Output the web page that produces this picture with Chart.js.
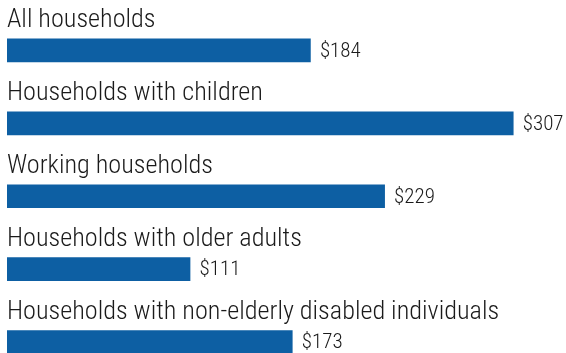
<!DOCTYPE html>
<html><head><meta charset="utf-8">
<script src="https://cdn.jsdelivr.net/npm/chart.js@4"></script>
<style>html,body{margin:0;padding:0;background:#fff;overflow:hidden;width:566px;height:353px}
#wrap{width:566px;height:353px;overflow:hidden;position:relative}
#wrap canvas{display:block}</style></head>
<body><div id="wrap"><div style="width:566px;height:390px"><canvas id="c"></canvas></div></div>
<script>
const categories = ["All households","Households with children","Working households","Households with older adults","Households with non-elderly disabled individuals"];
const values = [184, 307, 229, 111, 173];
const valueLabels = ["$184","$307","$229","$111","$173"];

const FONT = '"Roboto Condensed", "Open Sans", sans-serif';
const labelPlugin = {
  id: 'labels',
  afterDatasetsDraw(chart) {
    const ctx = chart.ctx;
    const meta = chart.getDatasetMeta(0);
    ctx.save();
    ctx.fillStyle = '#1a1a1a';
    meta.data.forEach((bar, i) => {
      const top = bar.y - bar.height / 2;
      ctx.font = '300 26.2px ' + FONT;
      ctx.textAlign = 'left';
      ctx.textBaseline = 'alphabetic';
      ctx.fillText(categories[i], bar.base, top - 11.5);
      ctx.font = '300 21px ' + FONT;
      ctx.textBaseline = 'middle';
      ctx.fillText(valueLabels[i], bar.x + 9.5, bar.y + 1);
    });
    ctx.restore();
  }
};

document.fonts.load('300 24px "Roboto Condensed"').finally(() => {
new Chart(document.getElementById('c'), {
  type: 'bar',
  data: { labels: categories, datasets: [{ data: values, backgroundColor: '#0d5fa3', barThickness: 23, borderWidth: 0 }] },
  options: {
    indexAxis: 'y', responsive: true, maintainAspectRatio: false, animation: false,
    layout: { padding: { left: 7, right: 0, top: 14, bottom: 11.5 } },
    plugins: { legend: { display: false }, tooltip: { enabled: false } },
    scales: {
      x: { display: false, min: 0, max: 339 },
      y: { display: false }
    }
  },
  plugins: [labelPlugin]
});
});
</script></body></html>
